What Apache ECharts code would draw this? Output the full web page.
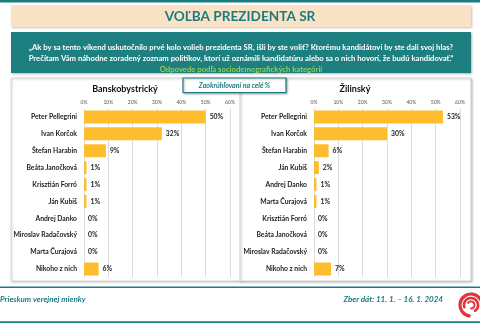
<!DOCTYPE html>
<html><head><meta charset="utf-8">
<script src="https://cdn.jsdelivr.net/npm/echarts@6/dist/echarts.min.js"></script>
<style>html,body{margin:0;padding:0;background:#fff}#c{width:480px;height:323px}</style>
</head><body><div id="c"></div>
<script>
const catsLeft = ['Peter Pellegrini','Ivan Korčok','Štefan Harabin','Beáta Janočková','Krisztián Forró','Ján Kubiš','Andrej Danko','Miroslav Radačovský','Marta Čurajová','Nikoho z nich'];
const valsLeft = [50,32,9,1,1,1,0,0,0,6];
const catsRight = ['Peter Pellegrini','Ivan Korčok','Štefan Harabin','Ján Kubiš','Andrej Danko','Marta Čurajová','Krisztián Forró','Beáta Janočková','Miroslav Radačovský','Nikoho z nich'];
const valsRight = [53,30,6,2,1,1,0,0,0,7];
const axisTicks = [0,10,20,30,40,50,60];
const titleLeft = 'Banskobystrický';
const titleRight = 'Žilinský';

const TEAL = '#1b7c80';
const FONT = 'Lato, "Open Sans", sans-serif';
const chart = echarts.init(document.getElementById('c'), null, {renderer:'canvas'});

function xAx(gi){
  return {gridIndex:gi, type:'value', min:axisTicks[0], max:axisTicks[axisTicks.length-1], interval:10, position:'top',
    axisLine:{show:false}, axisTick:{show:false},
    splitLine:{show:true, lineStyle:{color:'#dcdcdc', width:1}},
    axisLabel:{formatter:'{value}%', fontSize:5, color:'#555', margin:4, fontFamily:FONT}};
}
function yAx(gi, cats){
  return {gridIndex:gi, type:'category', data:cats, inverse:true,
    axisLine:{show:false}, axisTick:{show:false},
    axisLabel:{fontSize:6.8, fontWeight:'bold', color:'#222', margin:7, fontFamily:FONT}};
}
function ser(i, vals){
  return {type:'bar', xAxisIndex:i, yAxisIndex:i, data:vals, barWidth:13,
    itemStyle:{color:'#fdbd2c'}, silent:true,
    label:{show:true, position:'right', distance:4, formatter:'{c}%', fontSize:6.8, fontWeight:'bold', color:'#222', fontFamily:FONT}};
}

const logoArcs = [
  {r:11, s:Math.PI*0.55, e:Math.PI*2.05, w:3.2},
  {r:7, s:Math.PI*0.9, e:Math.PI*2.3, w:2.6},
  {r:3.5, s:Math.PI*1.2, e:Math.PI*2.5, w:2}
];

chart.setOption({
  animation:false,
  grid:[
    {left:84, width:146, top:108.5, height:169},
    {left:314, width:146, top:108.5, height:169}
  ],
  xAxis:[xAx(0), xAx(1)],
  yAxis:[yAx(0, catsLeft), yAx(1, catsRight)],
  series:[ser(0, valsLeft), ser(1, valsRight)],
  graphic:[
    {type:'rect', z:-10, shape:{x:0,y:0,width:480,height:2.5}, style:{fill:TEAL}},
    {type:'rect', z:-10, shape:{x:11,y:5,width:460,height:22}, style:{fill:'#fae2c6', shadowBlur:2, shadowColor:'rgba(0,0,0,0.25)', shadowOffsetX:1, shadowOffsetY:1}},
    {type:'text', z:5, style:{x:240,y:16.5,text:'VOĽBA PREZIDENTA SR', align:'center', verticalAlign:'middle', fill:TEAL, font:'bold 13.6px '+FONT}},
    {type:'rect', z:-10, shape:{x:11,y:32,width:460,height:41}, style:{fill:'#1e7f80', shadowBlur:2, shadowColor:'rgba(0,0,0,0.3)', shadowOffsetX:1, shadowOffsetY:1}},
    {type:'text', z:5, style:{x:241,y:48,text:'„Ak by sa tento víkend uskutočnilo prvé kolo volieb prezidenta SR, išli by ste voliť? Ktorému kandidátovi by ste dali svoj hlas?', align:'center', verticalAlign:'middle', fill:'#fff', font:'bold 7.7px '+FONT}},
    {type:'text', z:5, style:{x:241,y:58.5,text:'Prečítam Vám náhodne zoradený zoznam politikov, ktorí už oznámili kandidatúru alebo sa o nich hovorí, že budú kandidovať.“', align:'center', verticalAlign:'middle', fill:'#fff', font:'bold 7.7px '+FONT}},
    {type:'text', z:5, style:{x:241,y:69.5,text:'Odpovede podľa sociodemografických kategórií', align:'center', verticalAlign:'middle', fill:'#92d050', font:'bold 7.7px '+FONT}},
    {type:'rect', z:-10, shape:{x:11,y:78,width:230,height:203}, style:{fill:'#fff', stroke:'#d6d6d6', lineWidth:1, shadowBlur:2, shadowColor:'rgba(0,0,0,0.2)', shadowOffsetX:1, shadowOffsetY:1}},
    {type:'rect', z:-10, shape:{x:240,y:78,width:231,height:203}, style:{fill:'#fff', stroke:'#d6d6d6', lineWidth:1, shadowBlur:2, shadowColor:'rgba(0,0,0,0.25)', shadowOffsetX:1, shadowOffsetY:1}},
    {type:'text', z:5, style:{x:125,y:89,text:titleLeft, align:'center', verticalAlign:'middle', fill:'#111', font:'bold 9px '+FONT}},
    {type:'text', z:5, style:{x:355,y:89,text:titleRight, align:'center', verticalAlign:'middle', fill:'#111', font:'bold 9px '+FONT}},
    {type:'rect', z:6, shape:{x:183,y:78,width:103,height:14.5}, style:{fill:'#fff', stroke:TEAL, lineWidth:1.2, shadowBlur:2, shadowColor:'rgba(0,0,0,0.3)', shadowOffsetX:1, shadowOffsetY:1}},
    {type:'text', z:7, style:{x:234.5,y:85.5,text:'Zaokrúhľovaní na celé %', align:'center', verticalAlign:'middle', fill:TEAL, font:'italic bold 7px '+FONT}},
    {type:'rect', z:-10, shape:{x:0,y:286.5,width:480,height:1.6}, style:{fill:TEAL}},
    {type:'rect', z:-10, shape:{x:0,y:321.3,width:480,height:1.7}, style:{fill:TEAL}},
    {type:'text', z:5, style:{x:0,y:299,text:'Prieskum verejnej mienky', align:'left', verticalAlign:'middle', fill:TEAL, font:'italic bold 8px '+FONT}},
    {type:'text', z:5, style:{x:443,y:299,text:'Zber dát: 11. 1. – 16. 1. 2024', align:'right', verticalAlign:'middle', fill:TEAL, font:'italic bold 8px '+FONT}},
  ].concat(logoArcs.map(a => ({type:'arc', z:5, shape:{cx:471,cy:305,r:a.r,startAngle:a.s,endAngle:a.e}, style:{stroke:'#e2343f', lineWidth:a.w, fill:null, lineCap:'round'}})))
});
</script></body></html>
